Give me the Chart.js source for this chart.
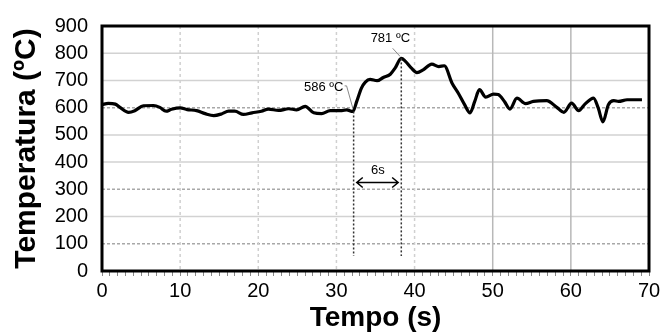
<!DOCTYPE html>
<html>
<head>
<meta charset="utf-8">
<script src="https://cdn.jsdelivr.net/npm/chart.js@4"></script>
<style>
  body { margin: 0; background: #fff; }
</style>
</head>
<body>
<canvas id="tempChart" width="666" height="335"></canvas>
<script>
// time (s) and temperature (ºC)
const timeS = [0, 0.8, 1.7, 2.3, 3.4, 4.2, 5.3, 6.6, 7.4, 8.2, 8.9, 10.0, 10.9, 12.1, 13.2, 14.3, 15.3, 16.2, 17.0,
    18.1, 19.2, 20.4, 21.3, 22.6, 23.9, 24.9, 26.0, 27.1, 28.1, 29.2, 30.7, 31.3, 32.1, 32.6, 33.2, 33.7, 34.3,
    35.2, 36.0, 36.9, 37.5, 38.3, 38.8, 39.6, 40.3, 41.1, 42.2, 43.1, 43.8, 44.8, 45.6, 46.4, 47.1, 47.7, 48.3,
    49.1, 50.1, 50.7, 51.5, 52.2, 53.1, 54.2, 55.2, 56.9, 58.2, 59.1, 60.1, 61.0, 61.8, 62.9, 63.5, 64.1, 64.8,
    65.5, 66.1, 67.2, 69.1];
const tempC = [611, 616, 613, 601, 583, 589, 607, 608, 601, 587, 594, 599, 593, 589, 578, 571, 577, 587, 587,
    575, 581, 587, 595, 590, 596, 592, 605, 581, 578, 589, 589, 592, 586, 623, 672, 694, 704,
    699, 711, 723, 745, 781, 771, 745, 729, 739, 760, 751, 754, 690, 653, 611, 581, 623, 666,
    639, 650, 648, 623, 595, 635, 615, 623, 626, 601, 583, 617, 589, 613, 635, 599, 548, 611,
    626, 623, 629, 629];

const yTicks = [0, 100, 200, 300, 400, 500, 600, 700, 800, 900];
const xTicks = [0, 10, 20, 30, 40, 50, 60, 70];
const solidRows = [200, 400, 500, 700, 800];
const dashedRows = [100, 300, 600];
const dashedCols = [10, 20, 30, 40];
const solidCols = [50, 60];

// annotations: start point, peak and the 6 s interval
const markStart = { t: 32.2, v: 586, label: '586 ºC' };
const markPeak = { t: 38.3, v: 781, label: '781 ºC' };
const spanLabel = '6s';

const FONT = "'Liberation Sans', Arial, sans-serif";

const gridPlugin = {
    id: 'gridLines',
    beforeDatasetsDraw(chart) {
        const { ctx, chartArea: a, scales: { x, y } } = chart;
        ctx.save();
        function hLine(v, color, dash, w) {
            const py = y.getPixelForValue(v);
            ctx.strokeStyle = color; ctx.lineWidth = w; ctx.setLineDash(dash);
            ctx.beginPath(); ctx.moveTo(a.left, py); ctx.lineTo(a.right, py); ctx.stroke();
        }
        function vLine(v, color, dash, w) {
            const px = x.getPixelForValue(v);
            ctx.strokeStyle = color; ctx.lineWidth = w; ctx.setLineDash(dash);
            ctx.beginPath(); ctx.moveTo(px, a.top); ctx.lineTo(px, a.bottom); ctx.stroke();
        }
        solidRows.forEach(v => hLine(v, '#d2d2d2', [], 1.5));
        dashedRows.forEach(v => hLine(v, '#a8a8a8', [3, 2], 1.5));
        dashedCols.forEach(v => vLine(v, '#d0d0d0', [3, 3], 1.5));
        solidCols.forEach(v => vLine(v, '#b8b8b8', [], 1.5));
        ctx.restore();
    }
};

const notePlugin = {
    id: 'notes',
    afterDatasetsDraw(chart) {
        const { ctx, scales: { x, y } } = chart;
        ctx.save();
        // dotted drop lines
        ctx.strokeStyle = '#333';
        ctx.lineWidth = 1.5;
        ctx.setLineDash([2, 2]);
        [markStart, markPeak].forEach(m => {
            ctx.beginPath();
            ctx.moveTo(x.getPixelForValue(m.t), y.getPixelForValue(m.v));
            ctx.lineTo(x.getPixelForValue(m.t), y.getPixelForValue(55));
            ctx.stroke();
        });
        ctx.setLineDash([]);

        // double arrow for 6 s
        const ay = y.getPixelForValue(325);
        const ax1 = x.getPixelForValue(32.6);
        const ax2 = x.getPixelForValue(37.9);
        ctx.strokeStyle = '#000';
        ctx.lineWidth = 1.5;
        ctx.beginPath();
        ctx.moveTo(ax1, ay); ctx.lineTo(ax2, ay);
        ctx.moveTo(ax1 + 6, ay - 5); ctx.lineTo(ax1, ay); ctx.lineTo(ax1 + 6, ay + 5);
        ctx.moveTo(ax2 - 6, ay - 5); ctx.lineTo(ax2, ay); ctx.lineTo(ax2 - 6, ay + 5);
        ctx.stroke();

        ctx.fillStyle = '#000';
        ctx.font = '13px ' + FONT;
        ctx.textAlign = 'center';
        ctx.textBaseline = 'middle';
        ctx.fillText(spanLabel, x.getPixelForValue(35.3), y.getPixelForValue(370));

        // value labels with leader lines
        ctx.textAlign = 'right';
        ctx.fillText(markStart.label, x.getPixelForValue(30.9), y.getPixelForValue(676));
        ctx.textAlign = 'center';
        ctx.fillText(markPeak.label, x.getPixelForValue(36.9), y.getPixelForValue(856));

        ctx.strokeStyle = '#888';
        ctx.lineWidth = 1;
        ctx.beginPath();
        ctx.moveTo(x.getPixelForValue(31.05), y.getPixelForValue(680));
        ctx.lineTo(x.getPixelForValue(31.3), y.getPixelForValue(680));
        ctx.lineTo(x.getPixelForValue(32.1), y.getPixelForValue(598));
        ctx.moveTo(x.getPixelForValue(37.2), y.getPixelForValue(818));
        ctx.lineTo(x.getPixelForValue(38.15), y.getPixelForValue(788));
        ctx.stroke();
        ctx.restore();
    },
    afterDraw(chart) {
        const { ctx, chartArea: a } = chart;
        ctx.save();
        ctx.strokeStyle = '#000';
        ctx.lineWidth = 3;
        ctx.strokeRect(a.left, a.top, a.right - a.left, a.bottom - a.top);
        ctx.restore();
    }
};

const points = timeS.map((t, i) => ({ x: t, y: tempC[i] }));

new Chart(document.getElementById('tempChart').getContext('2d'), {
    type: 'scatter',
    data: {
        datasets: [{
            data: points,
            showLine: true,
            borderColor: '#000',
            borderWidth: 3.2,
            pointRadius: 0,
            cubicInterpolationMode: 'monotone'
        }]
    },
    options: {
        responsive: false,
        maintainAspectRatio: false,
        animation: false,
        layout: { padding: { left: 0, top: 24, right: 17, bottom: 0 } },
        plugins: {
            legend: { display: false },
            tooltip: { enabled: false }
        },
        scales: {
            x: {
                type: 'linear',
                min: 0,
                max: 70,
                afterFit: s => { s.height = 64; },
                afterBuildTicks: s => {
                    s.ticks = [];
                    for (let i = 0; i <= 70; i++) s.ticks.push({ value: i });
                },
                ticks: {
                    autoSkip: false,
                    maxRotation: 0,
                    padding: 3,
                    color: '#000',
                    font: { family: FONT, size: 20 },
                    callback: v => (xTicks.includes(v) ? String(v) : '')
                },
                grid: {
                    drawOnChartArea: false,
                    tickLength: 5,
                    tickColor: '#888',
                    tickWidth: 1
                },
                border: { display: false },
                title: {
                    display: true,
                    text: 'Tempo (s)',
                    color: '#000',
                    padding: { top: 0, bottom: 0 },
                    font: { family: FONT, size: 28, weight: 'bold' }
                }
            },
            y: {
                min: 0,
                max: 900,
                afterFit: s => { s.width = 102; },
                afterBuildTicks: s => { s.ticks = yTicks.map(v => ({ value: v })); },
                ticks: {
                    padding: 14,
                    color: '#000',
                    font: { family: FONT, size: 20 }
                },
                grid: { display: false, drawTicks: false },
                border: { display: false },
                title: {
                    display: true,
                    text: 'Temperatura (ºC)',
                    color: '#000',
                    padding: { top: 9, bottom: 0 },
                    font: { family: FONT, size: 30, weight: 'bold' }
                }
            }
        }
    },
    plugins: [gridPlugin, notePlugin]
});
</script>
</body>
</html>
